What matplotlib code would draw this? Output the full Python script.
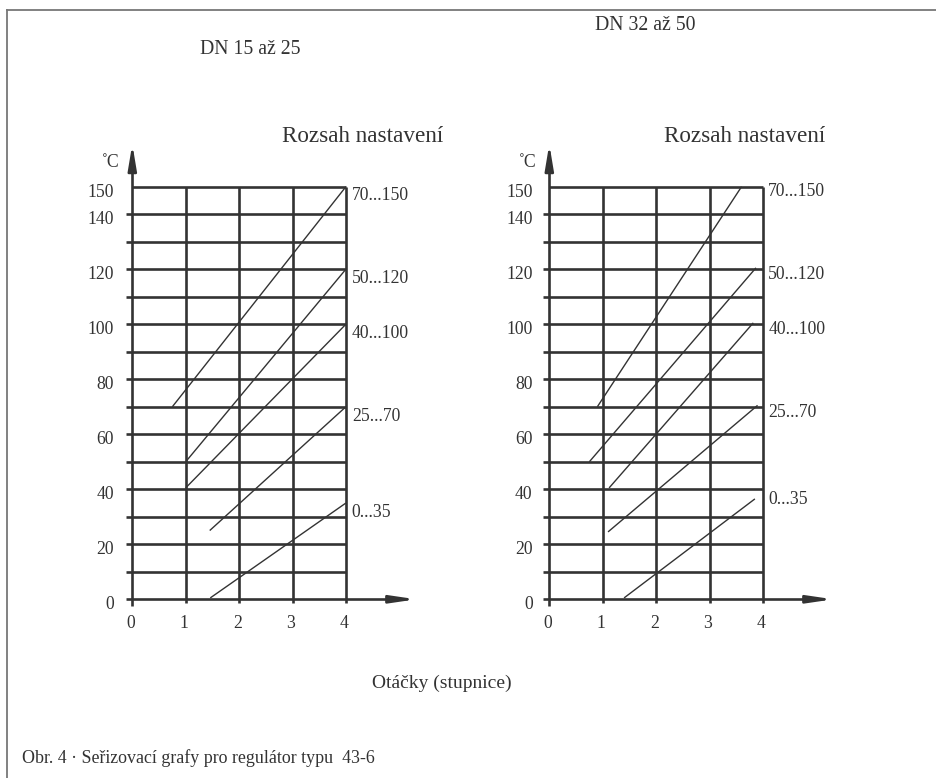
import matplotlib
matplotlib.use("Agg")
import matplotlib.pyplot as plt

# ---------------- data ----------------
x_ticks = [0, 1, 2, 3, 4]
y_grid = [0, 10, 20, 30, 40, 50, 60, 70, 80, 90, 100, 110, 120, 130, 140, 150]
y_tick_labels = [0, 20, 40, 60, 80, 100, 120, 140, 150]
range_labels = ["70...150", "50...120", "40...100", "25...70", "0...35"]

# DN 15 až 25 : start/end of each setting-range line (x = turns, y = °C)
dn15_x = [[0.75, 4.0], [1.0, 4.0], [1.0, 4.0], [1.45, 4.0], [1.46, 4.0]]
dn15_y = [[70, 150], [50, 120], [40.5, 100], [25, 70], [0.5, 35]]

# DN 32 až 50
dn32_x = [[0.9, 3.6], [0.75, 3.87], [1.12, 3.82], [1.1, 3.9], [1.4, 3.85]]
dn32_y = [[70, 150], [50, 120.5], [40.5, 100.5], [24.5, 70.5], [0.5, 36.5]]

titles = ["DN 15 až 25", "DN 32 až 50"]
range_title = "Rozsah nastavení"
unit = "˚C"
xlabel = "Otáčky (stupnice)"
caption = "Obr. 4 · Seřizovací grafy pro regulátor typu  43-6"

# ---------------- style ----------------
W, H = 936, 778
INK = "#333333"
FONT = "Liberation Serif"
plt.rcParams["font.family"] = [FONT, "DejaVu Serif"]

fig = plt.figure(figsize=(W / 100, H / 100), dpi=100)

SX = 53.4      # px per x unit
SY = 2.7507    # px per °C
Y0 = 599.3     # pixel row of 0 °C


def make_axes(x0_px):
    xlo, xhi, ylo, yhi = -1.0, 6.0, -20.0, 190.0
    left = x0_px + xlo * SX
    right = x0_px + xhi * SX
    top = Y0 - yhi * SY
    bottom = Y0 - ylo * SY
    ax = fig.add_axes([left / W, 1 - bottom / H, (right - left) / W, (bottom - top) / H])
    ax.set_xlim(xlo, xhi)
    ax.set_ylim(ylo, yhi)
    ax.axis("off")
    return ax


def draw_panel(ax, xs, ys, ytick_dx):
    glw = 1.9
    top = y_grid[-1]
    xmax = x_ticks[-1]
    # horizontal grid lines
    for v in y_grid:
        if v == 0:
            continue
        x_start = 0 if v == top else -0.12
        ax.plot([x_start, xmax], [v, v], color=INK, lw=glw, solid_capstyle="butt")
    # vertical grid lines
    for t in x_ticks[1:]:
        ax.plot([t, t], [-1.5, top], color=INK, lw=glw, solid_capstyle="butt")
    # axes with arrows
    ax.plot([-0.12, 5.0], [0, 0], color=INK, lw=glw, solid_capstyle="butt")
    ax.annotate("", xy=(5.32, 0), xytext=(4.9, 0),
                arrowprops=dict(arrowstyle="-|>,head_length=1.5,head_width=0.22",
                                mutation_scale=10, color=INK, lw=glw,
                                shrinkA=0, shrinkB=0))
    ax.plot([0, 0], [-2.5, 160], color=INK, lw=glw, solid_capstyle="butt")
    ax.annotate("", xy=(0, 165.5), xytext=(0, 155),
                arrowprops=dict(arrowstyle="-|>,head_length=1.5,head_width=0.25",
                                mutation_scale=10, color=INK, lw=glw,
                                shrinkA=0, shrinkB=0))
    # setting-range lines
    for x, y in zip(xs, ys):
        ax.plot(x, y, color=INK, lw=1.0, solid_capstyle="butt")
    # tick labels
    for t in x_ticks:
        ax.text(t - 0.03, -10.4, str(t), ha="center", va="baseline",
                fontsize=12.7, color=INK)
    for v in y_tick_labels:
        ax.text(ytick_dx, v - 3.6, str(v), ha="right", va="baseline",
                fontsize=12.7, color=INK)
    ax.text(-0.24, 157, unit, ha="right", va="baseline", fontsize=12.7, color=INK)


# label end values for the range labels (baseline positions in °C)
label_ends = [150, 120, 100, 70, 35]

ax1 = make_axes(132.3)
draw_panel(ax1, dn15_x, dn15_y, -0.34)
for lab, v in zip(range_labels, label_ends):
    ax1.text(4.11, v - 5, lab, ha="left", va="baseline", fontsize=12.7, color=INK)

ax2 = make_axes(549.3)
draw_panel(ax2, dn32_x, dn32_y, -0.31)
for lab, v, d in zip(range_labels, label_ends, [-3.4, -3.6, -3.6, -3.8, -0.3]):
    ax2.text(4.10, v + d, lab, ha="left", va="baseline", fontsize=12.7, color=INK)


def ftext(xp, yp, s, **kw):
    fig.text(xp / W, 1 - yp / H, s, color=INK, **kw)


# titles
ftext(250, 54, titles[0], ha="center", va="baseline", fontsize=14.2)
ftext(645, 30, titles[1], ha="center", va="baseline", fontsize=14.2)
ftext(281.7, 142, range_title, ha="left", va="baseline", fontsize=16.7)
ftext(825, 142.5, range_title, ha="right", va="baseline", fontsize=16.7)
ftext(371.7, 688, xlabel, ha="left", va="baseline", fontsize=14)
ftext(21.7, 763, caption, ha="left", va="baseline", fontsize=12.9)

# page frame (top and left rules)
frame = "#777777"
fig.add_artist(plt.Line2D([6.5 / W, 1.0], [1 - 10 / H, 1 - 10 / H], color=frame, lw=1.3))
fig.add_artist(plt.Line2D([6.5 / W, 6.5 / W], [0.0, 1 - 10 / H], color=frame, lw=1.3))

fig.savefig("out.png", dpi=100, facecolor="white")
